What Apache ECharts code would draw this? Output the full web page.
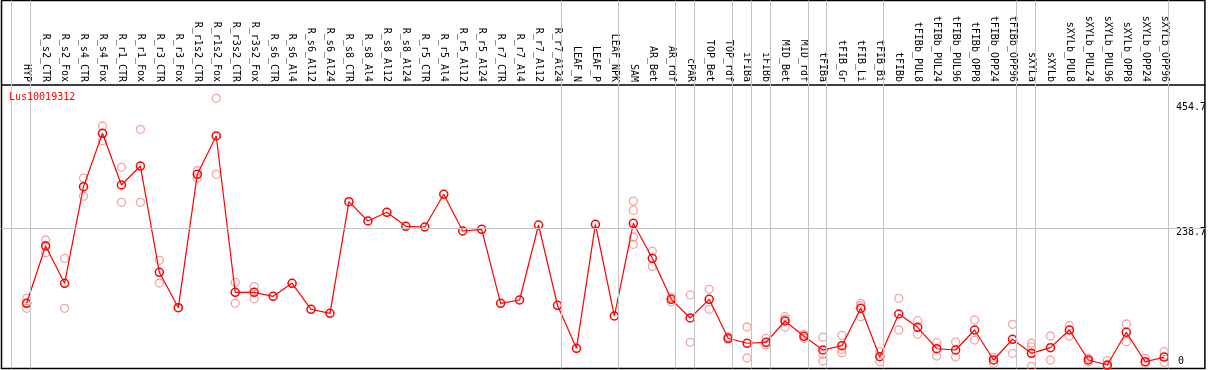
<!DOCTYPE html>
<html><head><meta charset="utf-8">
<script src="https://cdn.jsdelivr.net/npm/echarts@6/dist/echarts.min.js"></script>
<style>html,body{margin:0;padding:0;background:#fff}#c{width:1209px;height:370px}</style>
</head><body><div id="c"></div>
<script>
const chartTitle = 'Lus10019312';
const categories = ['HYP','R_s2_CTR','R_s2_Fox','R_s4_CTR','R_s4_Fox','R_r1_CTR','R_r1_Fox','R_r3_CTR','R_r3_Fox','R_r1s2_CTR','R_r1s2_Fox','R_r3s2_CTR','R_r3s2_Fox','R_s6_CTR','R_s6_Al4','R_s6_Al12','R_s6_Al24','R_s8_CTR','R_s8_Al4','R_s8_Al12','R_s8_Al24','R_r5_CTR','R_r5_Al4','R_r5_Al12','R_r5_Al24','R_r7_CTR','R_r7_Al4','R_r7_Al12','R_r7_Al24','LEAF_N','LEAF_P','LEAF_NPK','SAM','AR_Bet','AR_rdf','cPAR','TOP_Bet','TOP_rdf','iFIBa','iFIBb','MID_Bet','MID_rdf','tFIBa','tFIB_Gr','tFIB_Li','tFIB_Bi','tFIBb','tFIBb_PUL8','tFIBb_PUL24','tFIBb_PUL96','tFIBb_OPP8','tFIBb_OPP24','tFIBb_OPP96','sXYLa','sXYLb','sXYLb_PUL8','sXYLb_PUL24','sXYLb_PUL96','sXYLb_OPP8','sXYLb_OPP24','sXYLb_OPP96'];
const meanValues = [108.6,207.4,143.1,309.7,401.7,312.6,345.3,162.1,101.1,331.0,397.1,127.6,127.6,120.7,143.1,98.3,91.4,283.8,250.5,265.5,241.4,240.2,296.6,233.3,236.2,108.6,114.3,243.6,105.2,31.0,244.8,86.7,246.6,186.2,115.5,83.3,115.5,48.3,39.7,41.4,78.1,51.7,28.1,35.5,100.0,16.6,90.2,67.2,30.3,28.1,62.6,10.9,46.6,22.4,32.1,62.6,10.9,2.2,58.6,7.9,15.9];
const replicateValues = [
  [117.2,108.8,100.0],[217.8,208.5,195.9],[186.2,100.0],[324.5,293.4],[414.3,389.0],
  [343.1,282.8],[408.6,282.8],[182.8,143.6],[101.1],[337.2,324.1],
  [462.1,331.0],[144.8,108.6],[137.4,116.4],[],[],
  [],[],[],[],[],
  [],[],[],[],[],
  [],[],[],[],[],
  [],[],[284.8,268.8,222.9,210.3],[198.3,172.1],[118.9,111.5],
  [123.0,41.4],[132.8,98.3],[50.5,46.5],[67.8,14.3],[48.3,36.7],
  [85.5,81.0,67.7],[55.2,48.3],[50.3,20.7,9.1],[53.4,29.3,23.4],[108.6,104.6,85.5],
  [25.2,7.9],[117.2,62.6],[78.6,55.2],[40.7,17.8],[42.2,15.9],
  [79.8,45.3],[14.9,5.2],[72.4,22.4],[39.7,33.9,0],[52.2,10.9],
  [70.0,52.2],[14.0,7.6],[9.9,0],[72.9,42.4],[13.8,5.2],
  [25.2,6.9]
];
const yUpperTicks = [238.7, 454.7];
const yZeroTick = [0];
const gridlineValues = [238.7];
const separatorAfter = [-1,0,28,31,34,35,37,38,39,41,42,45,52,53,60];

// layout constants (pixels)
const GL = 1.5, GT = 0.5, GRE = 1207.5, GBE = 368.5;
const CAT0_X = 26.7, STEP = 19, ZERO_Y = 366.3, PX_PER_UNIT = 0.58, HEADER_Y = 85;
const xMin = (GL - CAT0_X) / STEP, xMax = (GRE - CAT0_X) / STEP;
const yMin = (ZERO_Y - GBE) / PX_PER_UNIT, yMax = (ZERO_Y - GT) / PX_PER_UNIT;
const FONT = '"DejaVu Sans Mono", monospace';

const repData = [];
replicateValues.forEach((arr, i) => arr.forEach(v => repData.push([i, v])));
const meanData = meanValues.map((v, i) => [i, v]);

const chart = echarts.init(document.getElementById('c'));
const yBase = {type:'value', min:yMin, max:yMax, axisLine:{show:false, onZero:false}, axisTick:{show:false}, splitLine:{show:false}};
chart.setOption({
  animation:false,
  backgroundColor:'#fff',
  title:{text:chartTitle, left:9, top:92, padding:0, textStyle:{color:'#ff0000', fontSize:10, fontWeight:'normal', fontFamily:FONT}},
  grid:{left:GL, top:GT, width:GRE-GL, height:GBE-GT, show:true, borderColor:'#000', borderWidth:1.5, backgroundColor:'transparent'},
  xAxis:{type:'value', min:xMin, max:xMax, position:'top', offset:-(HEADER_Y-GT),
    axisLine:{show:true, onZero:false, lineStyle:{color:'#000', width:1.5}}, axisTick:{show:false}, splitLine:{show:false},
    axisLabel:{customValues:categories.map((_, i) => i), formatter:v => categories[Math.round(v)] || '', rotate:90, margin:3,
      fontSize:10, fontFamily:FONT, color:'#000'}},
  yAxis:[
    Object.assign({}, yBase, {position:'right', axisLabel:{customValues:yUpperTicks, inside:true, align:'left', verticalAlign:'top', margin:29, fontSize:10, fontFamily:FONT, color:'#000'}}),
    Object.assign({}, yBase, {position:'left', axisLabel:{customValues:yZeroTick, inside:true, align:'left', verticalAlign:'bottom', margin:1178-GL, fontSize:10, fontFamily:FONT, color:'#000'}})
  ],
  series:[
    {type:'scatter', data:repData, symbol:'circle', symbolSize:8, z:2,
      itemStyle:{color:'rgba(0,0,0,0)', borderColor:'#f08c8c', borderWidth:1.3},
      markLine:{silent:true, symbol:['none','none'], label:{show:false}, lineStyle:{color:'#c4c4c4', width:1, type:'solid'},
        data:separatorAfter.map(k => ({xAxis:k + 0.2})).concat(gridlineValues.map(v => ({yAxis:v})))}},
    {type:'line', data:meanData, symbol:'circle', symbolSize:8, z:3,
      lineStyle:{color:'#ff0000', width:1.2},
      itemStyle:{color:'rgba(0,0,0,0)', borderColor:'#ff0000', borderWidth:1.5}}
  ]
});
</script></body></html>
